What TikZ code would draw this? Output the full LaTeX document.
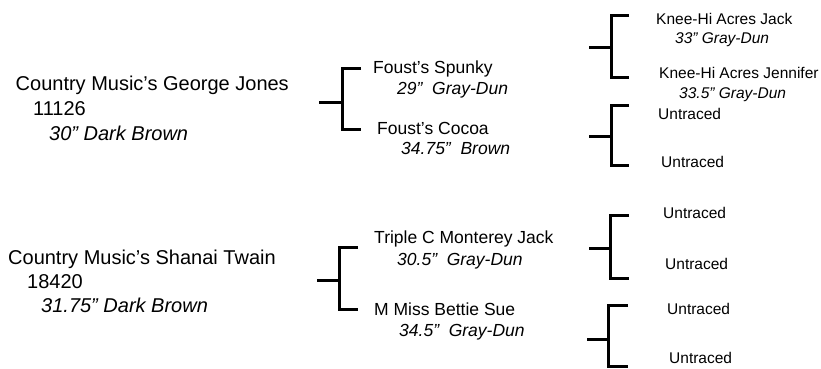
\documentclass[tikz,border=0pt]{standalone}
\usepackage{fontspec}
\setmainfont{Liberation Sans}
\begin{document}
\begin{tikzpicture}[x=1pt,y=-1pt,
  txt/.style={inner sep=0pt,anchor=base west},
  sire/.style={txt,font=\fontsize{20}{24}\selectfont},
  par/.style={txt,font=\fontsize{17.5}{21}\selectfont},
  gp/.style={txt,font=\fontsize{15.5}{18}\selectfont},
  br/.style={line width=3pt,line join=miter,line cap=butt}]
\useasboundingbox (0,0) rectangle (821,368);
% sires
\node[sire] (s1a) at (15.5,90) {Country Music's George Jones};
\node[sire] (s1b) at (33,115) {11126};
\node[sire] (s1c) at (49,140) {\itshape 30" Dark Brown};
\node[sire] (s2a) at (8,264) {Country Music's Shanai Twain};
\node[sire] (s2b) at (27,288) {18420};
\node[sire] (s2c) at (41,312) {\itshape 31.75" Dark Brown};
% parents
\node[par] (p1a) at (373,73) {Foust's Spunky};
\node[par] (p1b) at (397,94) {\itshape 29"\ \ Gray-Dun};
\node[par] (p2a) at (377,134) {Foust's Cocoa};
\node[par] (p2b) at (401,154) {\itshape 34.75"\ \ Brown};
\node[par] (p3a) at (374,243) {Triple C Monterey Jack};
\node[par] (p3b) at (397,265) {\itshape 30.5"\ \ Gray-Dun};
\node[par] (p4a) at (374,315) {M Miss Bettie Sue};
\node[par] (p4b) at (399,336) {\itshape 34.5"\ \ Gray-Dun};
% grandparents
\node[gp] (g1a) at (656,24) {Knee-Hi Acres Jack};
\node[gp] (g1b) at (675,43) {\itshape 33" Gray-Dun};
\node[gp] (g2a) at (659,78) {Knee-Hi Acres Jennifer};
\node[gp] (g2b) at (679,98) {\itshape 33.5" Gray-Dun};
\node[gp] (g3) at (658,119) {Untraced};
\node[gp] (g4) at (661,167) {Untraced};
\node[gp] (g5) at (663,218) {Untraced};
\node[gp] (g6) at (665,269) {Untraced};
\node[gp] (g7) at (667,314) {Untraced};
\node[gp] (g8) at (669,363) {Untraced};
% bracket coordinates: s = stub start, j = junction, t = top arm end, u = bottom arm end
\coordinate (s1) at (319,102.5); \coordinate (j1) at (342,102.5);
\coordinate (t1) at (361,68.5);  \coordinate (u1) at (361,129.5);
\coordinate (s2) at (317,280);   \coordinate (j2) at (339.5,280);
\coordinate (t2) at (358,247);   \coordinate (u2) at (358,309);
\coordinate (s3) at (589,47);    \coordinate (j3) at (611,47);
\coordinate (t3) at (629,15);    \coordinate (u3) at (629,77);
\coordinate (s4) at (589,136);   \coordinate (j4) at (611,136);
\coordinate (t4) at (629,105);   \coordinate (u4) at (629,165);
\coordinate (s5) at (589,248.5); \coordinate (j5) at (610.5,248.5);
\coordinate (t5) at (629,215);   \coordinate (u5) at (629,278.5);
\coordinate (s6) at (587,339.5); \coordinate (j6) at (608.5,339.5);
\coordinate (t6) at (628,305.5); \coordinate (u6) at (628,366);
\foreach \i in {1,...,6}{
  \draw[br] (s\i) -- (j\i);
  \draw[br] (t\i) -| (j\i) |- (u\i);
}
\end{tikzpicture}
\end{document}
